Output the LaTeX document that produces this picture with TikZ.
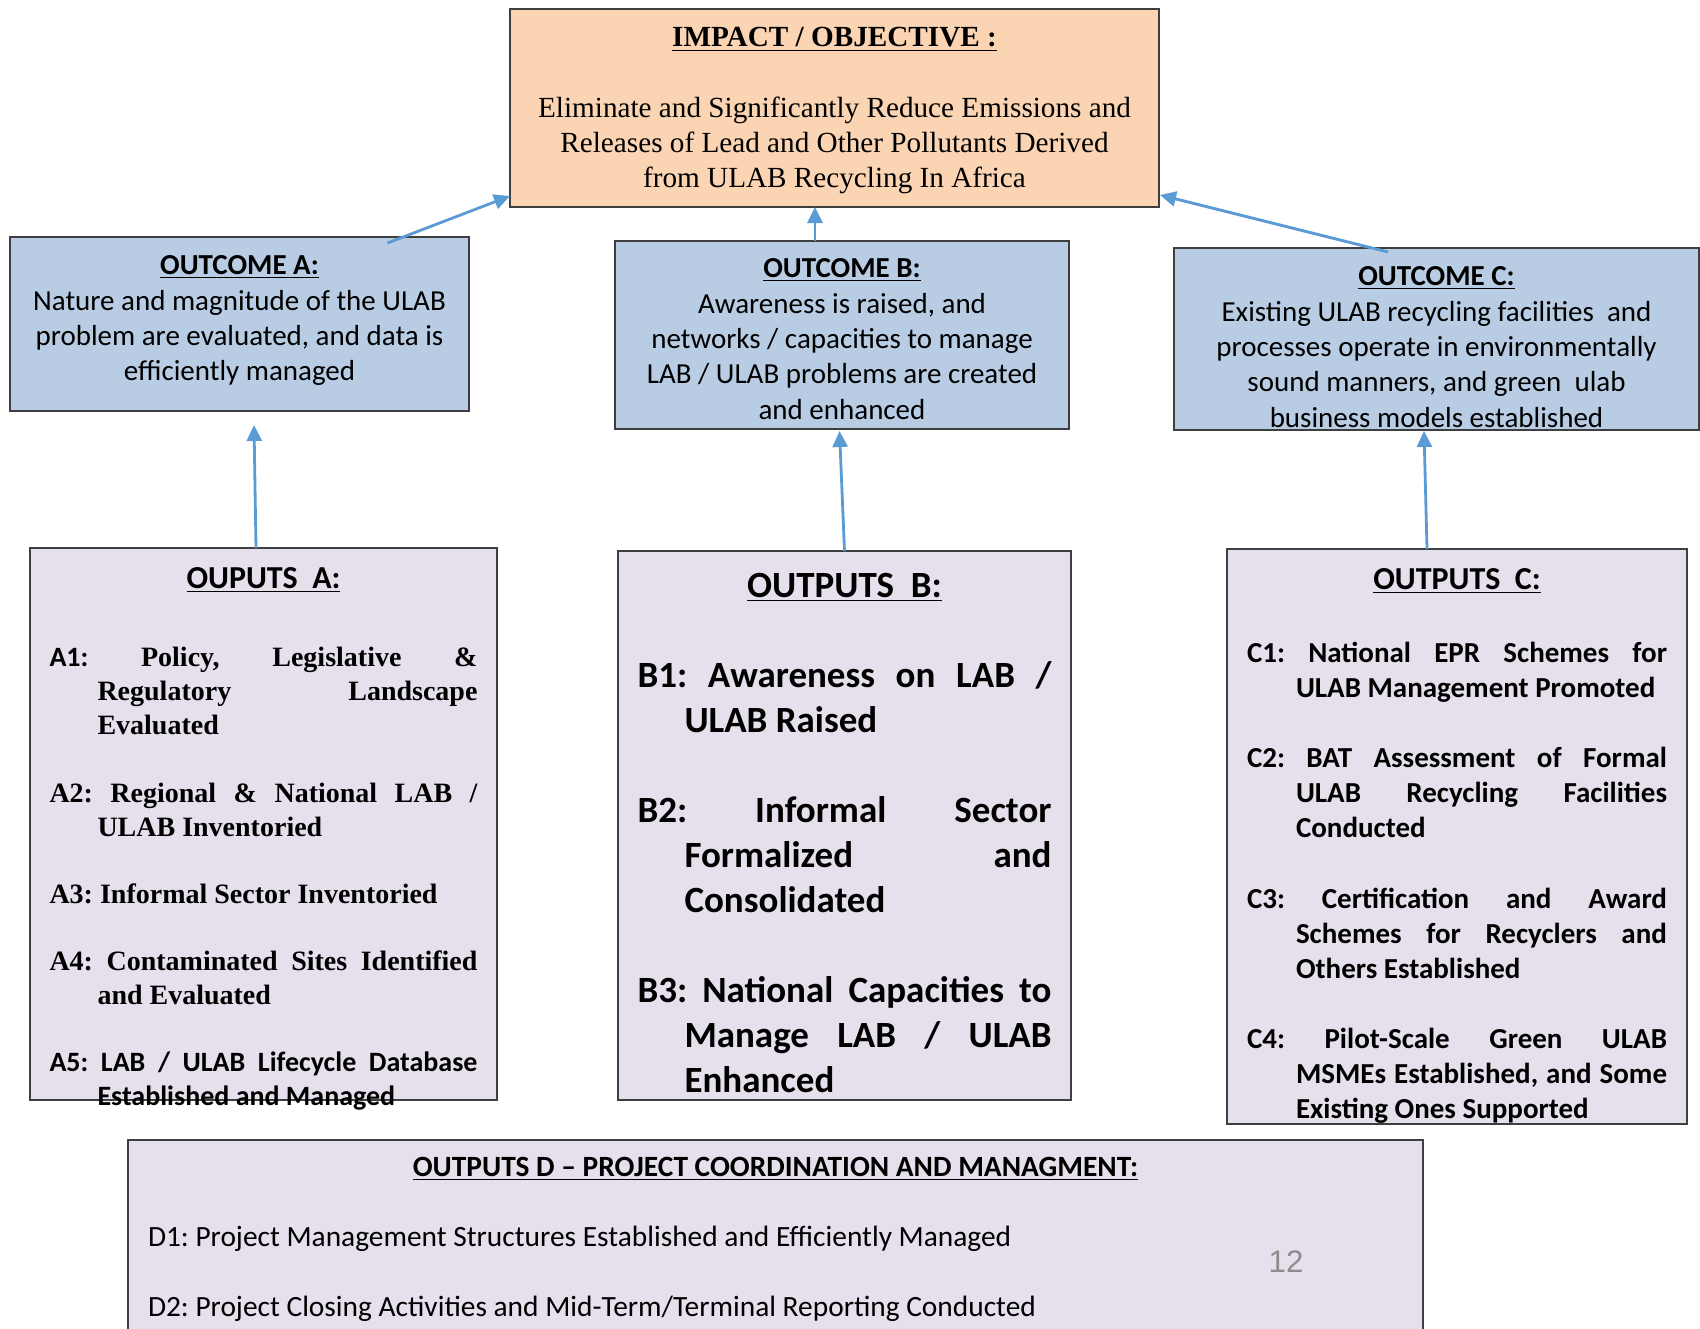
\documentclass[tikz,border=0pt]{standalone}
\usepackage{fontspec}
\setmainfont{Liberation Serif}
\newfontfamily\calibri{Carlito}
\newfontfamily\arialfont{Liberation Sans}
\usetikzlibrary{positioning,calc,arrows.meta}
\definecolor{impactfill}{HTML}{FBD4B4}
\definecolor{outcomefill}{HTML}{B8CCE4}
\definecolor{outputfill}{HTML}{E5E0EC}
\definecolor{linkblue}{HTML}{5B9BD5}
\definecolor{boxline}{HTML}{3F3F3F}
\tolerance=10000
\hbadness=10000
\hyphenpenalty=10000
\frenchspacing
\begin{document}
\begin{tikzpicture}[x=0.5pt, y=-0.5pt, >={Triangle[length=8pt,width=7.5pt]},
  box/.style={draw=boxline, line width=0.75pt, rectangle, inner sep=0pt, outer sep=0pt},
  boxtext/.style={inner sep=0pt, outer sep=0pt},
  outcome/.style={boxtext, align=flush center, font=\calibri\fontsize{14.5}{17.7}\selectfont},
  output/.style={boxtext, align=justify},
  link/.style={->, draw=linkblue, line width=1.4pt}]

  \useasboundingbox (0,0) rectangle (1700,1328);

  % boxes
  \node [box, fill=impactfill, minimum width=324.5pt, minimum height=99pt] (IM) at (834.5,108) {};
  \node [box, fill=outcomefill, minimum width=229.5pt, minimum height=87pt] (OA) at (239.5,324) {};
  \node [box, fill=outcomefill, minimum width=227pt, minimum height=94pt] (OB) at (842,335) {};
  \node [box, fill=outcomefill, minimum width=262.5pt, minimum height=91pt] (OC) at (1436.5,339) {};
  \node [box, fill=outputfill, minimum width=233.5pt, minimum height=276pt] (PA) at (263.5,824) {};
  \node [box, fill=outputfill, minimum width=226.5pt, minimum height=274.5pt] (PB) at (844.5,825.5) {};
  \node [box, fill=outputfill, minimum width=230pt, minimum height=287.5pt] (PC) at (1457,836.5) {};
  \node [box, fill=outputfill, minimum width=647.5pt, minimum height=105pt] (PD) at (775.5,1245) {};

  % texts
  \node [boxtext, align=flush center, text width=310pt, font=\fontsize{14.6}{17.35}\selectfont, below=6.8pt of IM.north] (IMt)
  {\strut\textbf{\underline{IMPACT / OBJECTIVE :}}\\[18.2pt]
   Eliminate and Significantly Reduce Emissions and\\
   Releases of Lead and Other Pollutants Derived\\
   from ULAB Recycling In Africa};

  \node [outcome, text width=220pt, below=6.5pt of OA.north] (OAt)
  {\strut\textbf{\underline{OUTCOME A:}}\\
   Nature and magnitude of the ULAB\\
   problem are evaluated, and data is\\
   efficiently managed};

  \node [outcome, text width=215pt, below=6pt of OB.north] (OBt)
  {\strut\textbf{\underline{OUTCOME B:}}\\
   Awareness is raised, and\\
   networks / capacities to manage\\
   LAB / ULAB problems are created\\
   and enhanced};

  \node [outcome, text width=250pt, below=6.5pt of OC.north] (OCt)
  {\strut\textbf{\underline{OUTCOME C:}}\\
   Existing ULAB recycling facilities\ \ and\\
   processes operate in environmentally\\
   sound manners, and green\ \ ulab\\
   business models established};

  \node [output, text width=214pt, font=\bfseries\fontsize{14}{17}\selectfont, below=8.5pt of PA.north] (PAt)
  {\setlength{\parskip}{16.6pt}%
   \hspace*{\fill}\strut{\calibri\fontsize{16}{17}\selectfont\underline{OUPUTS\ \ A:}}\hspace*{\fill}\par
   \vspace{5.4pt}
   \hangindent=24pt\hangafter=1 {\calibri A1:} Policy, Legislative \&\linebreak Regulatory Landscape\linebreak Evaluated\par
   \hangindent=24pt\hangafter=1 A2: Regional \& National LAB /\linebreak ULAB Inventoried\par
   \hangindent=24pt\hangafter=1 A3: Informal Sector Inventoried\par
   \hangindent=24pt\hangafter=1 A4: Contaminated Sites Identified\linebreak and Evaluated\par
   \hangindent=24pt\hangafter=1 {\calibri A5: LAB / ULAB Lifecycle Database\linebreak Established and Managed\par}};

  \node [output, text width=207pt, font=\calibri\bfseries\fontsize{18.5}{22.4}\selectfont, below=7.5pt of PB.north] (PBt)
  {\setlength{\parskip}{22.8pt}%
   \hspace*{\fill}\strut\underline{OUTPUTS\ \ B:}\hspace*{\fill}\par
   \hangindent=23.5pt\hangafter=1 B1: Awareness on LAB /\linebreak ULAB Raised\par
   \hangindent=23.5pt\hangafter=1 B2: Informal Sector\linebreak Formalized and\linebreak Consolidated\par
   \hangindent=23.5pt\hangafter=1 B3: National Capacities to\linebreak Manage LAB / ULAB\linebreak Enhanced\par};

  \node [output, text width=210pt, font=\calibri\bfseries\fontsize{14.5}{17.5}\selectfont, below=7.75pt of PC.north] (PCt)
  {\setlength{\parskip}{17.75pt}%
   \hspace*{\fill}\strut{\fontsize{16}{17.5}\selectfont\underline{OUTPUTS\ \ C:}}\hspace*{\fill}\par
   \vspace{1.25pt}
   \hangindent=24.5pt\hangafter=1 C1: National EPR Schemes for\linebreak ULAB Management Promoted\par
   \hangindent=24.5pt\hangafter=1 C2: BAT Assessment of Formal\linebreak ULAB Recycling Facilities\linebreak Conducted\par
   \hangindent=24.5pt\hangafter=1 C3: Certification and Award\linebreak Schemes for Recyclers and\linebreak Others Established\par
   \hangindent=24.5pt\hangafter=1 C4: Pilot-Scale Green ULAB\linebreak MSMEs Established, and Some\linebreak Existing Ones Supported\par};

  \node [boxtext, align=flush left, text width=627.5pt, font=\calibri\fontsize{14.7}{17.5}\selectfont, below=5.75pt of PD.north] (PDt)
  {\setlength{\parskip}{17.5pt}%
   \hspace*{\fill}\strut\textbf{\underline{OUTPUTS D – PROJECT COORDINATION AND MANAGMENT:}}\hspace*{\fill}\par
   D1: Project Management Structures Established and Efficiently Managed\par
   D2: Project Closing Activities and Mid-Term/Terminal Reporting Conducted\par};

  \node [boxtext, anchor=base, text=black!45, font=\arialfont\fontsize{15.6}{18}\selectfont] (pg) at (1286,1272) {12};

  % links
  \draw [link] ($(OA.north)+(148,6)$) -- ($(IM.south west)+(0,-11)$);
  \draw [link] ($(OB.north)+(-27,0)$) -- ($(IM.south)+(-19.5,0)$);
  \draw [link] ($(OC.north)+(-48.5,4)$) -- ($(IM.south east)+(1,-12)$);
  \draw [link] ($(PA.north)+(-7.5,0)$) -- ($(OA.south)+(14.5,14)$);
  \draw [link] (PB.north) -- ($(OB.south)+(-2.5,2)$);
  \draw [link] ($(PC.north)+(-30,0)$) -- ($(OC.south)+(-12.5,1)$);

\end{tikzpicture}
\end{document}
